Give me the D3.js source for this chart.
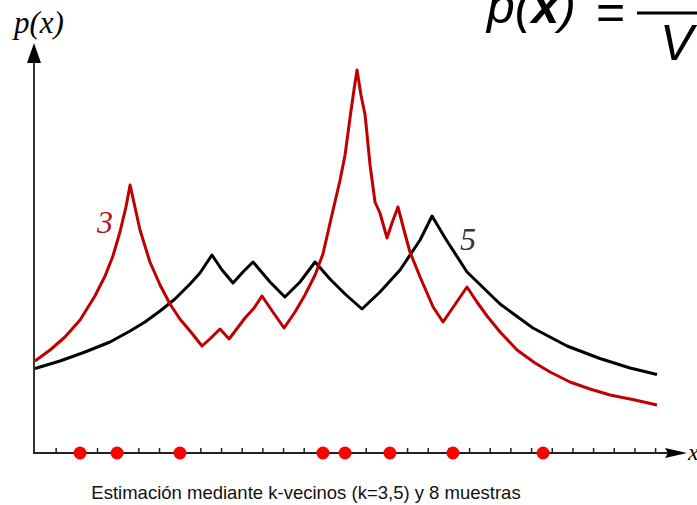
<!DOCTYPE html>
<html>
<head>
<meta charset="utf-8">
<script src="https://cdn.jsdelivr.net/npm/d3@7"></script>
<style>
  body { margin: 0; background: #fff; }
  svg { display: block; }
</style>
</head>
<body>
<svg id="chart" width="697" height="505"></svg>
<script>
// sample positions (x units, one per tick)
const samples = [2.18, 3.97, 7.01, 13.93, 15.0, 17.17, 20.22, 24.58];

// k = 3 estimate (red)
const k3X = [0, 0.73, 1.45, 2.18, 2.90, 3.39, 3.77, 4.11, 4.40, 4.60, 5.08, 5.56, 6.05, 6.53, 7.01, 7.50,
  8.08, 8.51, 8.95, 9.39, 10.16, 10.60, 10.98, 11.51, 12.05, 12.58, 13.06, 13.55, 13.93, 14.42, 14.76,
  15.00, 15.24, 15.43, 15.58, 15.77, 15.97, 16.21, 16.45, 16.69, 17.03, 17.27, 17.56, 17.85, 18.14,
  18.63, 19.26, 19.74, 20.90, 21.38, 21.87, 22.50, 23.32, 24.19, 24.92, 25.88, 26.85, 27.82, 29.03, 30.09];
const k3Y = [0.92, 1.03, 1.16, 1.33, 1.57, 1.77, 1.97, 2.21, 2.46, 2.68, 2.23, 1.91, 1.68, 1.49, 1.34, 1.22,
  1.07, 1.15, 1.24, 1.14, 1.35, 1.45, 1.57, 1.41, 1.25, 1.41, 1.58, 1.78, 1.99, 2.43, 2.73,
  2.98, 3.35, 3.63, 3.83, 3.58, 3.38, 2.88, 2.51, 2.40, 2.15, 2.30, 2.46, 2.23, 2.01,
  1.76, 1.46, 1.31, 1.66, 1.51, 1.37, 1.21, 1.03, 0.90, 0.81, 0.71, 0.64, 0.58, 0.53, 0.48];

// k = 5 estimate (black)
const k5X = [0, 1.21, 2.42, 3.63, 4.60, 5.32, 6.05, 6.77, 7.50, 7.98, 8.56, 9.05, 9.58, 10.06, 10.55,
  11.37, 12.09, 12.82, 13.55, 14.27, 15.00, 15.82, 16.69, 17.66, 18.63, 19.21, 19.84, 20.90, 22.50,
  24.09, 25.74, 27.33, 28.79, 30.09];
const k5Y = [0.845, 0.92, 1.01, 1.11, 1.22, 1.31, 1.42, 1.54, 1.69, 1.80, 1.98, 1.83, 1.70, 1.81, 1.91,
  1.71, 1.56, 1.71, 1.91, 1.74, 1.59, 1.44, 1.61, 1.83, 2.13, 2.37, 2.15, 1.81, 1.49,
  1.25, 1.07, 0.945, 0.85, 0.785];

const tickValues = d3.range(1, 31);

const svg = d3.select("#chart");

const x = d3.scaleLinear().domain([0, 31.5]).range([35, 35 + 31.5 * 20.67]);
const y = d3.scaleLinear().domain([0, 4.08]).range([453, 45]);

const line = d3.line()
  .x(d => x(d[0]))
  .y(d => y(d[1]));

// ticks
svg.append("g")
  .attr("transform", "translate(0," + y(0) + ")")
  .call(d3.axisTop(x).tickValues(tickValues).tickSize(5).tickFormat(""))
  .call(g => g.select(".domain").remove())
  .call(g => g.selectAll(".tick line").attr("stroke", "#222").attr("stroke-width", 1.5));

// axes with arrow heads
svg.append("line")
  .attr("x1", x(0) - 1).attr("x2", x(0) - 1)
  .attr("y1", y(0)).attr("y2", 60)
  .attr("stroke", "#333").attr("stroke-width", 2);
svg.append("path")
  .attr("d", "M" + (x(0) - 1) + ",43L" + (x(0) + 6) + ",63L" + (x(0) - 8) + ",63Z")
  .attr("fill", "#000");

svg.append("line")
  .attr("x1", x(0) - 2).attr("x2", 670)
  .attr("y1", y(0)).attr("y2", y(0))
  .attr("stroke", "#222").attr("stroke-width", 2);
svg.append("path")
  .attr("d", "M687," + y(0) + "L665," + (y(0) - 5) + "L668," + y(0) + "L665," + (y(0) + 5) + "Z")
  .attr("fill", "#000");

// curves
svg.append("path")
  .datum(d3.zip(k5X, k5Y))
  .attr("d", line)
  .attr("fill", "none")
  .attr("stroke", "#000")
  .attr("stroke-width", 3)
  .attr("stroke-linejoin", "round");

svg.append("path")
  .datum(d3.zip(k3X, k3Y))
  .attr("d", line)
  .attr("fill", "none")
  .attr("stroke", "#c00000")
  .attr("stroke-width", 3)
  .attr("stroke-linejoin", "round");

// samples
svg.append("g")
  .selectAll("circle")
  .data(samples)
  .join("circle")
  .attr("cx", d => x(d))
  .attr("cy", y(0))
  .attr("r", 6.5)
  .attr("fill", "#ff0000");

// labels
svg.append("text")
  .attr("x", 14).attr("y", 33)
  .attr("font-family", "Liberation Serif")
  .attr("font-style", "italic")
  .attr("font-size", 31)
  .text("p(x)");

svg.append("text")
  .attr("x", 688).attr("y", 460)
  .attr("font-family", "Liberation Serif")
  .attr("font-style", "italic")
  .attr("font-size", 24)
  .text("x");

svg.append("text")
  .attr("x", 97).attr("y", 233)
  .attr("font-family", "Liberation Serif")
  .attr("font-style", "italic")
  .attr("font-size", 32)
  .attr("fill", "#b01818")
  .text("3");

svg.append("text")
  .attr("x", 460).attr("y", 250)
  .attr("font-family", "Liberation Serif")
  .attr("font-style", "italic")
  .attr("font-size", 32)
  .attr("fill", "#333")
  .text("5");

// formula in the top right corner
const f = svg.append("text")
  .attr("x", 487).attr("y", 23)
  .attr("font-family", "Liberation Sans")
  .attr("font-style", "italic")
  .attr("font-size", 50);
f.append("tspan").text("p(");
f.append("tspan").attr("font-weight", "bold").text("x");
f.append("tspan").text(")");
svg.append("text")
  .attr("x", 596).attr("y", 29)
  .attr("font-family", "Liberation Sans")
  .attr("font-size", 50)
  .text("=");
svg.append("line")
  .attr("x1", 637).attr("x2", 700)
  .attr("y1", 13).attr("y2", 13)
  .attr("stroke", "#000").attr("stroke-width", 3);
svg.append("text")
  .attr("x", 660).attr("y", 60)
  .attr("font-family", "Liberation Sans")
  .attr("font-style", "italic")
  .attr("font-size", 50)
  .text("V");

// caption
svg.append("text")
  .attr("x", 306).attr("y", 499)
  .attr("text-anchor", "middle")
  .attr("font-family", "Liberation Sans")
  .attr("font-size", 18.5)
  .attr("fill", "#111")
  .text("Estimación mediante k-vecinos (k=3,5) y 8 muestras");
</script>
</body>
</html>
